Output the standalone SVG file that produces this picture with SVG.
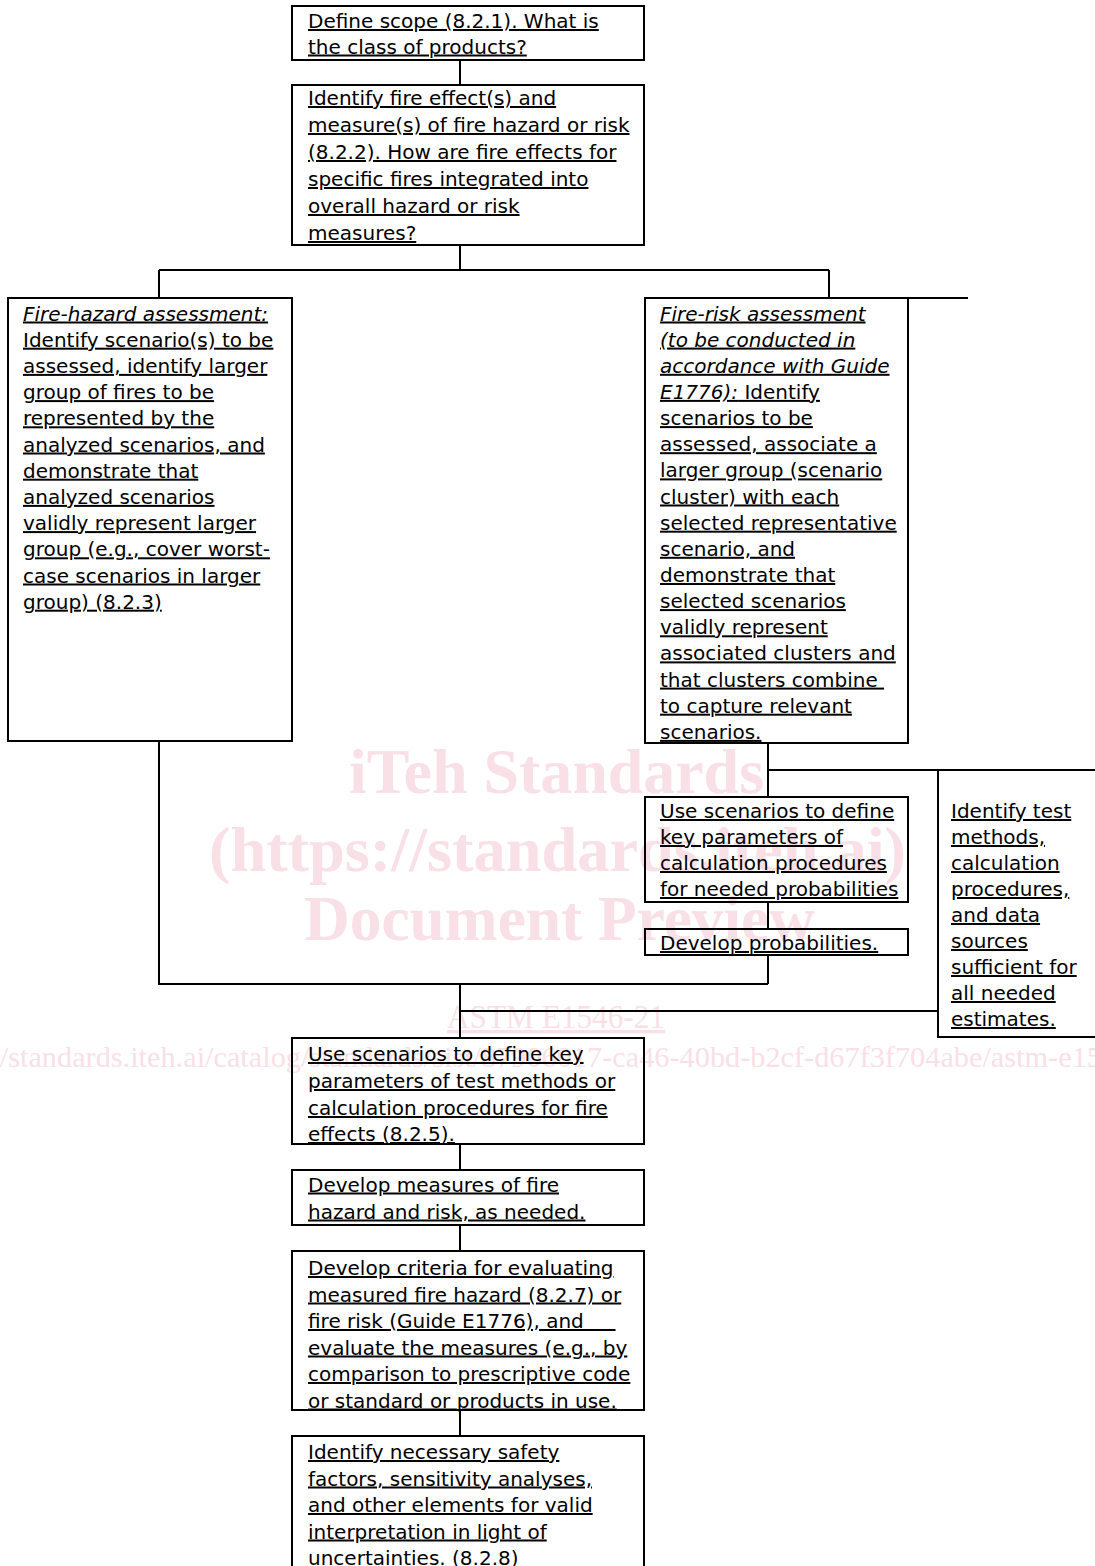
<svg xmlns="http://www.w3.org/2000/svg" width="1095" height="1566" viewBox="0 0 1095 1566">
<style>
.box{fill:none;stroke:#000;stroke-width:2}
.ln{fill:none;stroke:#000;stroke-width:2}
.t{font-family:"DejaVu Sans","Verdana",sans-serif;font-size:20px;fill:#000;text-decoration:underline}
.i{font-style:italic}
.wm{font-family:"Liberation Serif","Times New Roman",serif;fill:#f9dfe6}
.wmb{font-weight:bold;font-size:64px}
</style>
<rect width="1095" height="1566" fill="#fff"/>
<g id="watermark">
<text class="wm wmb" x="349" y="793" textLength="415" lengthAdjust="spacingAndGlyphs">iTeh Standards</text>
<text class="wm wmb" x="209" y="871" textLength="697" lengthAdjust="spacingAndGlyphs">(https://standards.iteh.ai)</text>
<text class="wm wmb" x="304" y="940" textLength="511" lengthAdjust="spacingAndGlyphs">Document Preview</text>
<text class="wm" x="447" y="1028" font-size="33" textLength="218" lengthAdjust="spacingAndGlyphs" text-decoration="underline">ASTM E1546-21</text>
<text class="wm" x="-76" y="1067" font-size="30.3">https://standards.iteh.ai/catalog/standards/sist/87906017-ca46-40bd-b2cf-d67f3f704abe/astm-e1546-21</text>
</g>
<g id="connectors">
<path class="ln" d="M460 60V85M460 245V270M159 270H829M159 270V298M829 270V298M908 298H968"/>
<path class="ln" d="M159 741V984H768M768 743V797M768 770H1095M768 902V929M768 955V984"/>
<path class="ln" d="M460 984V1038M460 1011H938M460 1144V1170M460 1225V1251M460 1410V1436"/>
</g>
<g id="n1">
<rect class="box" x="292" y="6" width="352" height="54"/>
<text class="t" x="308" y="28">Define scope (8.2.1). What is</text>
<text class="t" x="308" y="53.5">the class of products?</text>
</g>
<g id="n2">
<rect class="box" x="292" y="85" width="352" height="160"/>
<text class="t" x="308" y="105">Identify fire effect(s) and</text>
<text class="t" x="308" y="132">measure(s) of fire hazard or risk</text>
<text class="t" x="308" y="159">(8.2.2). How are fire effects for</text>
<text class="t" x="308" y="186">specific fires integrated into</text>
<text class="t" x="308" y="213">overall hazard or risk</text>
<text class="t" x="308" y="240">measures?</text>
</g>
<g id="n3">
<rect class="box" x="8" y="298" width="284" height="443"/>
<text class="t i" x="23" y="320.5">Fire-hazard assessment:</text>
<text class="t" x="23" y="346.7">Identify scenario(s) to be</text>
<text class="t" x="23" y="372.9">assessed, identify larger</text>
<text class="t" x="23" y="399.1">group of fires to be</text>
<text class="t" x="23" y="425.3">represented by the</text>
<text class="t" x="23" y="451.5">analyzed scenarios, and</text>
<text class="t" x="23" y="477.7">demonstrate that</text>
<text class="t" x="23" y="503.9">analyzed scenarios</text>
<text class="t" x="23" y="530.1">validly represent larger</text>
<text class="t" x="23" y="556.3">group (e.g., cover worst-</text>
<text class="t" x="23" y="582.5">case scenarios in larger</text>
<text class="t" x="23" y="608.7">group) (8.2.3)</text>
</g>
<g id="n4">
<rect class="box" x="645" y="298" width="263" height="445"/>
<text class="t i" x="660" y="320.5">Fire-risk assessment</text>
<text class="t i" x="660" y="346.6">(to be conducted in</text>
<text class="t i" x="660" y="372.8">accordance with Guide</text>
<text class="t" x="660" y="398.9"><tspan class="i">E1776):</tspan> Identify</text>
<text class="t" x="660" y="425.1">scenarios to be</text>
<text class="t" x="660" y="451.2">assessed, associate a</text>
<text class="t" x="660" y="477.4">larger group (scenario</text>
<text class="t" x="660" y="503.5">cluster) with each</text>
<text class="t" x="660" y="529.7">selected representative</text>
<text class="t" x="660" y="555.8">scenario, and</text>
<text class="t" x="660" y="582">demonstrate that</text>
<text class="t" x="660" y="608.1">selected scenarios</text>
<text class="t" x="660" y="634.3">validly represent</text>
<text class="t" x="660" y="660.4">associated clusters and</text>
<text class="t" x="660" y="686.6">that clusters combine&#160;</text>
<text class="t" x="660" y="712.7">to capture relevant</text>
<text class="t" x="660" y="738.9">scenarios.</text>
</g>
<g id="n5">
<rect class="box" x="645" y="797" width="263" height="105"/>
<text class="t" x="660" y="818">Use scenarios to define</text>
<text class="t" x="660" y="844">key parameters of</text>
<text class="t" x="660" y="870">calculation procedures</text>
<text class="t" x="660" y="896">for needed probabilities</text>
</g>
<g id="n6">
<rect class="box" x="645" y="929" width="263" height="26"/>
<text class="t" x="660" y="950">Develop probabilities.</text>
</g>
<g id="n7">
<rect class="box" x="938" y="770" width="200" height="267"/>
<text class="t" x="951" y="818">Identify test</text>
<text class="t" x="951" y="844">methods,</text>
<text class="t" x="951" y="870">calculation</text>
<text class="t" x="951" y="896">procedures,</text>
<text class="t" x="951" y="922">and data</text>
<text class="t" x="951" y="948">sources</text>
<text class="t" x="951" y="974">sufficient for</text>
<text class="t" x="951" y="1000">all needed</text>
<text class="t" x="951" y="1026">estimates.</text>
</g>
<g id="n8">
<rect class="box" x="292" y="1038" width="352" height="106"/>
<text class="t" x="308" y="1061">Use scenarios to define key</text>
<text class="t" x="308" y="1088">parameters of test methods or</text>
<text class="t" x="308" y="1115">calculation procedures for fire</text>
<text class="t" x="308" y="1141">effects (8.2.5).</text>
</g>
<g id="n9">
<rect class="box" x="292" y="1170" width="352" height="55"/>
<text class="t" x="308" y="1191.5">Develop measures of fire</text>
<text class="t" x="308" y="1218.5">hazard and risk, as needed.</text>
</g>
<g id="n10">
<rect class="box" x="292" y="1251" width="352" height="159"/>
<text class="t" x="308" y="1275">Develop criteria for evaluating</text>
<text class="t" x="308" y="1301.5">measured fire hazard (8.2.7) or</text>
<text class="t" x="308" y="1328">fire risk (Guide E1776), and&#160;&#160;&#160;&#160;&#160;</text>
<text class="t" x="308" y="1354.5">evaluate the measures (e.g., by</text>
<text class="t" x="308" y="1381">comparison to prescriptive code</text>
<text class="t" x="308" y="1407.5">or standard or products in use.</text>
</g>
<g id="n11">
<rect class="box" x="292" y="1436" width="352" height="150"/>
<text class="t" x="308" y="1459">Identify necessary safety</text>
<text class="t" x="308" y="1485.5">factors, sensitivity analyses,</text>
<text class="t" x="308" y="1512">and other elements for valid</text>
<text class="t" x="308" y="1538.5">interpretation in light of</text>
<text class="t" x="308" y="1565">uncertainties. (8.2.8)</text>
</g>
</svg>
